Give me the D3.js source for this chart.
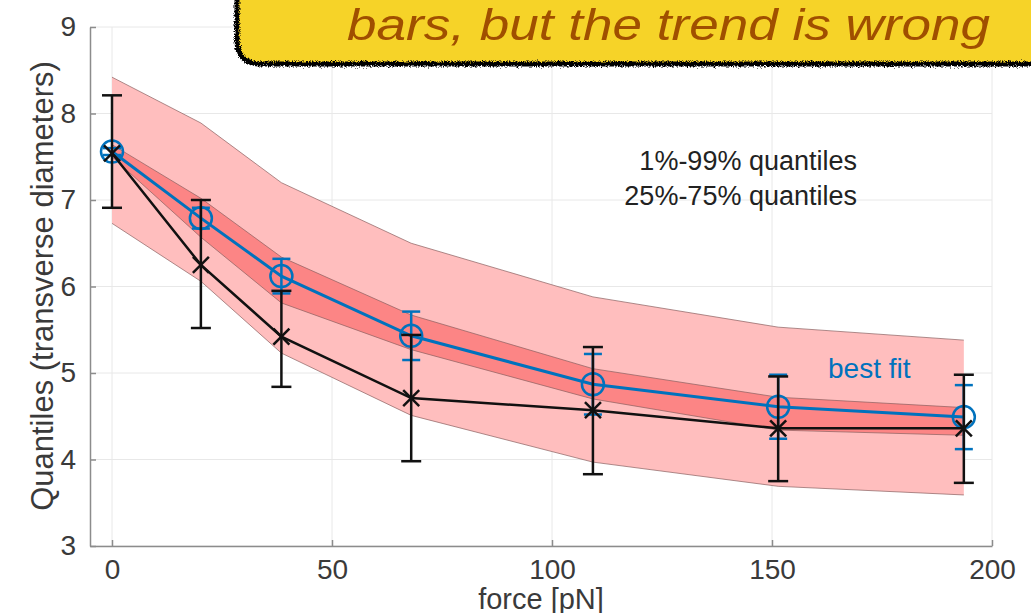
<!DOCTYPE html>
<html lang="en">
<head>
    <meta charset="UTF-8">
    <title>Quantiles vs force</title>
    <script src="https://d3js.org/d3.v7.min.js"></script>
    <style>
        body { margin: 0; background: #fff; }
        svg { display: block; font-family: "Liberation Sans", Arial, sans-serif; }
        .grid line { stroke: #e8e8e8; stroke-width: 1px; }
        .axis path, .axis line { stroke: #8c8c8c; stroke-width: 1.5px; }
        .axis text { fill: #3a3a3a; font-size: 28px; }
    </style>
</head>
<body>
    <script>
        // values
        var force   = [0, 20.2, 38.5, 68, 109.3, 151.4, 193.6];

        // 1%-99% and 25%-75% quantile bands
        var q01 = [6.73, 6.06, 5.23, 4.51, 3.97, 3.69, 3.59];
        var q99 = [8.42, 7.89, 7.20, 6.50, 5.88, 5.53, 5.38];
        var q25 = [7.50, 6.57, 5.81, 5.27, 4.70, 4.34, 4.28];
        var q75 = [7.64, 7.02, 6.34, 5.67, 5.05, 4.72, 4.60];

        // best fit (blue circles) with its error
        var fitMean = [7.56, 6.79, 6.12, 5.43, 4.87, 4.61, 4.49];
        var fitErr  = [0.04, 0.12, 0.20, 0.28, 0.35, 0.37, 0.37];

        // measured data (black crosses) with whiskers
        var dataMed = [7.54, 6.25, 5.42, 4.71, 4.57, 4.36, 4.36];
        var dataLo  = [6.91, 5.52, 4.84, 3.98, 3.83, 3.75, 3.73];
        var dataHi  = [8.21, 7.00, 5.95, 5.44, 5.30, 4.96, 4.98];

        var xTicks = [0, 50, 100, 150, 200];
        var yTicks = [3, 4, 5, 6, 7, 8, 9];

        var W = 1031, H = 613;
        var x = d3.scaleLinear().domain([-5, 200]).range([90, 992]);
        var y = d3.scaleLinear().domain([3, 9]).range([546, 27]);

        var svg = d3.select("body").append("svg")
            .attr("width", W)
            .attr("height", H);

        // grid
        var grid = svg.append("g").attr("class", "grid");
        grid.selectAll(".gx").data(xTicks).enter().append("line")
            .attr("x1", function(d) { return x(d); }).attr("x2", function(d) { return x(d); })
            .attr("y1", y(3)).attr("y2", y(9));
        grid.selectAll(".gy").data(yTicks).enter().append("line")
            .attr("x1", x(-5)).attr("x2", x(200))
            .attr("y1", function(d) { return y(d); }).attr("y2", function(d) { return y(d); });

        var idx = d3.range(force.length);

        function band(lo, hi, fill) {
            var area = d3.area()
                .x(function(i) { return x(force[i]); })
                .y0(function(i) { return y(lo[i]); })
                .y1(function(i) { return y(hi[i]); });
            svg.append("path").datum(idx).attr("d", area).attr("fill", fill);
            [lo, hi].forEach(function(arr) {
                var line = d3.line()
                    .x(function(i) { return x(force[i]); })
                    .y(function(i) { return y(arr[i]); });
                svg.append("path").datum(idx).attr("d", line)
                    .attr("fill", "none").attr("stroke", "#8a6060")
                    .attr("stroke-width", 1).attr("stroke-opacity", 0.7);
            });
        }
        band(q01, q99, "#ffbebe");
        band(q25, q75, "#fc8585");

        // blue best fit
        var blue = "#0072bd";
        var fitLine = d3.line()
            .x(function(i) { return x(force[i]); })
            .y(function(i) { return y(fitMean[i]); });
        svg.append("path").datum(idx).attr("d", fitLine)
            .attr("fill", "none").attr("stroke", blue).attr("stroke-width", 3);

        var fe = svg.append("g").attr("stroke", blue).attr("stroke-width", 2.5);
        idx.forEach(function(i) {
            var cx = x(force[i]), t = y(fitMean[i] + fitErr[i]), b = y(fitMean[i] - fitErr[i]);
            fe.append("line").attr("x1", cx).attr("x2", cx).attr("y1", t).attr("y2", b);
            fe.append("line").attr("x1", cx - 9).attr("x2", cx + 9).attr("y1", t).attr("y2", t);
            fe.append("line").attr("x1", cx - 9).attr("x2", cx + 9).attr("y1", b).attr("y2", b);
        });
        svg.selectAll(".fitpt").data(idx).enter().append("circle")
            .attr("cx", function(i) { return x(force[i]); })
            .attr("cy", function(i) { return y(fitMean[i]); })
            .attr("r", 11)
            .attr("fill", "none").attr("stroke", blue).attr("stroke-width", 2.5);

        // black data
        var dataLine = d3.line()
            .x(function(i) { return x(force[i]); })
            .y(function(i) { return y(dataMed[i]); });
        svg.append("path").datum(idx).attr("d", dataLine)
            .attr("fill", "none").attr("stroke", "#111").attr("stroke-width", 2.5);

        var de = svg.append("g").attr("stroke", "#111").attr("stroke-width", 2.5);
        idx.forEach(function(i) {
            var cx = x(force[i]), t = y(dataHi[i]), b = y(dataLo[i]), m = y(dataMed[i]);
            de.append("line").attr("x1", cx).attr("x2", cx).attr("y1", t).attr("y2", b);
            de.append("line").attr("x1", cx - 10).attr("x2", cx + 10).attr("y1", t).attr("y2", t);
            de.append("line").attr("x1", cx - 10).attr("x2", cx + 10).attr("y1", b).attr("y2", b);
            de.append("line").attr("x1", cx - 8).attr("x2", cx + 8).attr("y1", m - 8).attr("y2", m + 8);
            de.append("line").attr("x1", cx - 8).attr("x2", cx + 8).attr("y1", m + 8).attr("y2", m - 8);
        });

        // axes
        svg.append("g").attr("class", "axis")
            .attr("transform", "translate(0," + y(3) + ")")
            .call(d3.axisBottom(x).tickValues(xTicks).tickFormat(d3.format("d"))
                .tickSizeInner(-6).tickSizeOuter(0).tickPadding(13))
            .selectAll("text").attr("dy", "0.71em");
        svg.append("g").attr("class", "axis")
            .attr("transform", "translate(" + x(-5) + ",0)")
            .call(d3.axisLeft(y).tickValues(yTicks).tickFormat(d3.format("d"))
                .tickSizeInner(-6).tickSizeOuter(0).tickPadding(14));

        svg.append("text")
            .attr("x", x(97.5)).attr("y", 609)
            .attr("text-anchor", "middle")
            .attr("font-size", 29).attr("fill", "#3a3a3a")
            .text("force [pN]");
        svg.append("text")
            .attr("transform", "translate(53," + 286 + ") rotate(-90)")
            .attr("text-anchor", "middle")
            .attr("font-size", 31).attr("fill", "#3a3a3a")
            .text("Quantiles (transverse diameters)");

        // legend-ish annotations
        svg.append("text").attr("x", 857).attr("y", 170)
            .attr("text-anchor", "end").attr("font-size", 27).attr("fill", "#222")
            .text("1%-99% quantiles");
        svg.append("text").attr("x", 857).attr("y", 205)
            .attr("text-anchor", "end").attr("font-size", 27).attr("fill", "#222")
            .text("25%-75% quantiles");
        svg.append("text").attr("x", 828).attr("y", 378)
            .attr("font-size", 28).attr("fill", blue)
            .text("best fit");

        // yellow callout at the top
        var defs = svg.append("defs");
        var f = defs.append("filter").attr("id", "rough")
            .attr("x", "-5%").attr("y", "-5%").attr("width", "110%").attr("height", "120%");
        f.append("feTurbulence").attr("type", "fractalNoise")
            .attr("baseFrequency", 1.3).attr("numOctaves", 2).attr("seed", 5).attr("result", "n");
        f.append("feDisplacementMap").attr("in", "SourceGraphic").attr("in2", "n")
            .attr("scale", 6).attr("xChannelSelector", "R").attr("yChannelSelector", "G");

        var bx = 237, by = -40, bw = 840, bh = 104, r = 24;
        var boxPath = "M" + (bx + bw) + "," + by +
            " L" + bx + "," + by +
            " L" + bx + "," + (by + bh - r) +
            " Q" + bx + "," + (by + bh) + " " + (bx + r) + "," + (by + bh) +
            " L" + (bx + bw) + "," + (by + bh);
        svg.append("path").attr("d", boxPath + " Z").attr("fill", "#f6d328");
        svg.append("path").attr("d", boxPath)
            .attr("fill", "none").attr("stroke", "#000").attr("stroke-width", 5)
            .attr("filter", "url(#rough)");
        svg.append("text")
            .attr("x", 347).attr("y", 40)
            .attr("font-size", 45).attr("font-style", "italic")
            .attr("fill", "#a04f00")
            .attr("textLength", 643).attr("lengthAdjust", "spacingAndGlyphs")
            .text("bars, but the trend is wrong");
    </script>
</body>
</html>
